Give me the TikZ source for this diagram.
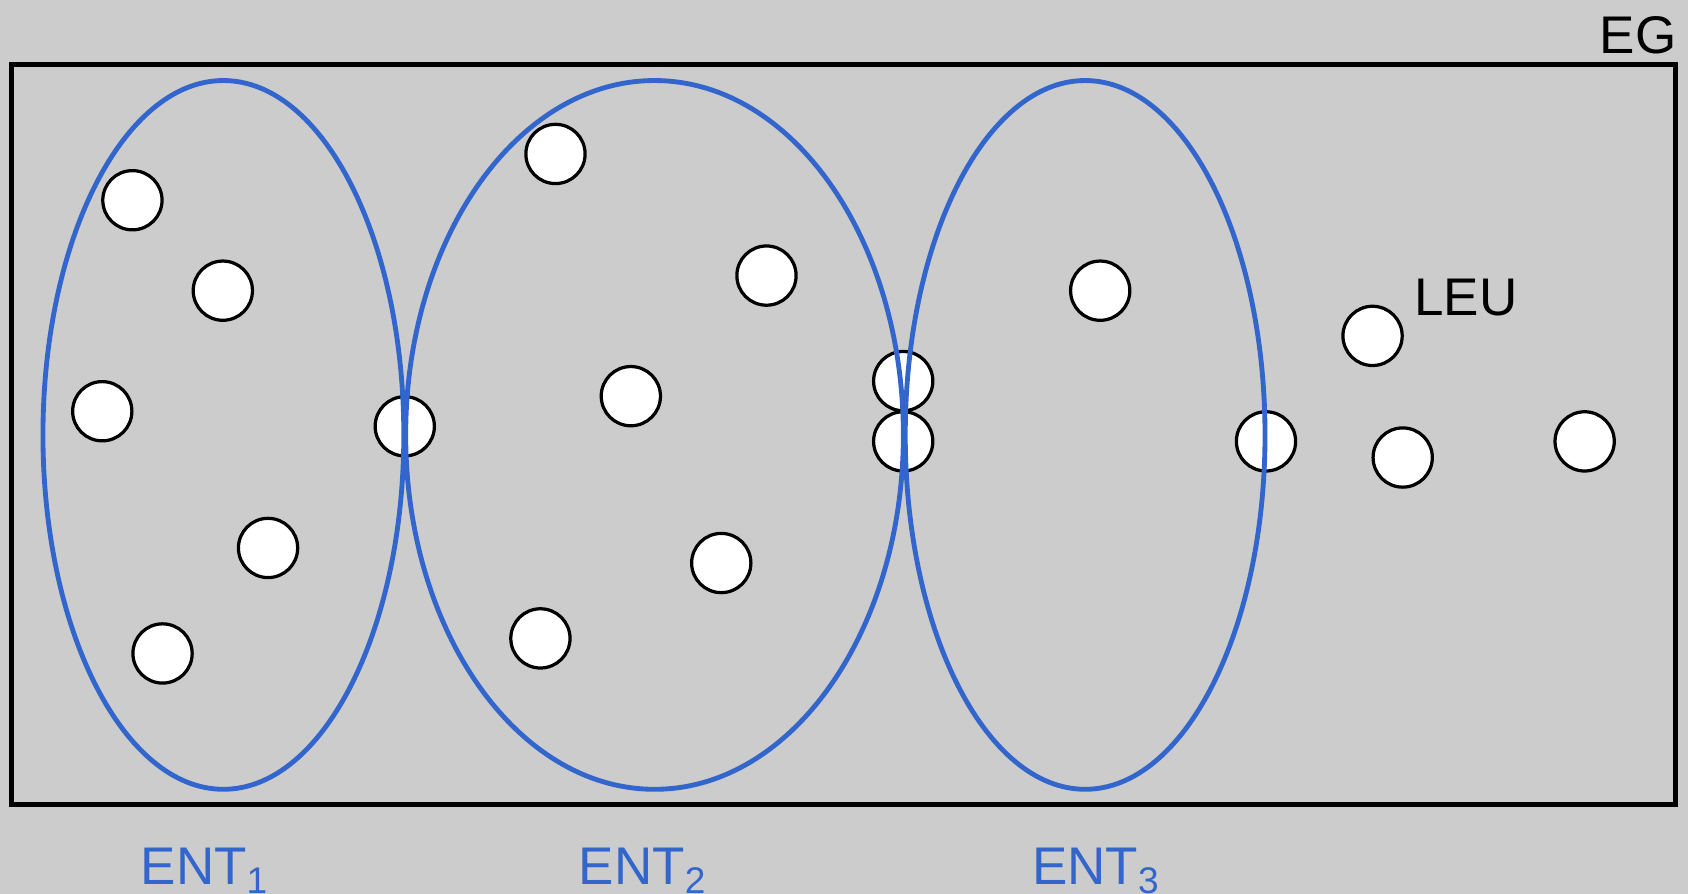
\documentclass[tikz,border=0pt]{standalone}
\usepackage{fontspec}
\setmainfont{Liberation Sans}
\usetikzlibrary{shapes.geometric,positioning}
\definecolor{entblue}{HTML}{3366CC}
\definecolor{bggray}{HTML}{CCCCCC}

\begin{document}
\begin{tikzpicture}[x=0.01cm, y=-0.01cm,
    unit/.style={circle, draw, fill=white, line width=0.03cm, minimum size=0.55cm, inner sep=0pt},
    ent/.style={ellipse, draw=entblue, line width=0.045cm, inner sep=0pt, minimum height=6.58cm},
    lbl/.style={font=\fontsize{14}{16}\selectfont, inner sep=0pt}]
    \fill[bggray] (0,0) rectangle (1568,830);
    \useasboundingbox (0,0) rectangle (1568,830);

    % Group
    \node (eg) [draw, line width=0.045cm, minimum width=15.45cm, minimum height=6.87cm, inner sep=0pt] at (783.5,403.5) {};

    % Units in ENT1
    \node (u1) [unit] at (123,186) {};
    \node (u2) [unit] at (207,270) {};
    \node (u3) [unit] at (95,382) {};
    \node (u4) [unit] at (249,509) {};
    \node (u5) [unit] at (151,607) {};
    \node (u6) [unit] at (376,396) {};
    % Units in ENT2
    \node (u7) [unit] at (516,143) {};
    \node (u8) [unit] at (712,256) {};
    \node (u9) [unit] at (586,368) {};
    \node (u10) [unit] at (670,523) {};
    \node (u11) [unit] at (502,593) {};
    \node (u12) [unit] at (839,354) {};
    \node (u13) [unit] at (839,410) {};
    % Units in ENT3
    \node (u14) [unit] at (1022,270) {};
    \node (u15) [unit] at (1176,410) {};
    % Units outside
    \node (u16) [unit] at (1275,312) {};
    \node (u17) [unit] at (1303,425) {};
    \node (u18) [unit] at (1472,410) {};

    % Ellipses
    \node (ent1) [ent, minimum width=3.35cm] at (207.5,404) {};
    \node (ent2) [ent, minimum width=4.62cm] at (608,404) {};
    \node (ent3) [ent, minimum width=3.34cm] at (1008,404) {};

    % Labels
    \node (eglbl) [lbl, anchor=base east] at (1558,50) {EG};
    \node (leulbl) [lbl, anchor=base west] at (1313,293) {LEU};
    \node (ent1lbl) [lbl, text=entblue, anchor=base west] at (130,822) {ENT\textsubscript{1}};
    \node (ent2lbl) [lbl, text=entblue, anchor=base west] at (537,822) {ENT\textsubscript{2}};
    \node (ent3lbl) [lbl, text=entblue, anchor=base west] at (958,822) {ENT\textsubscript{3}};
\end{tikzpicture}
\end{document}
